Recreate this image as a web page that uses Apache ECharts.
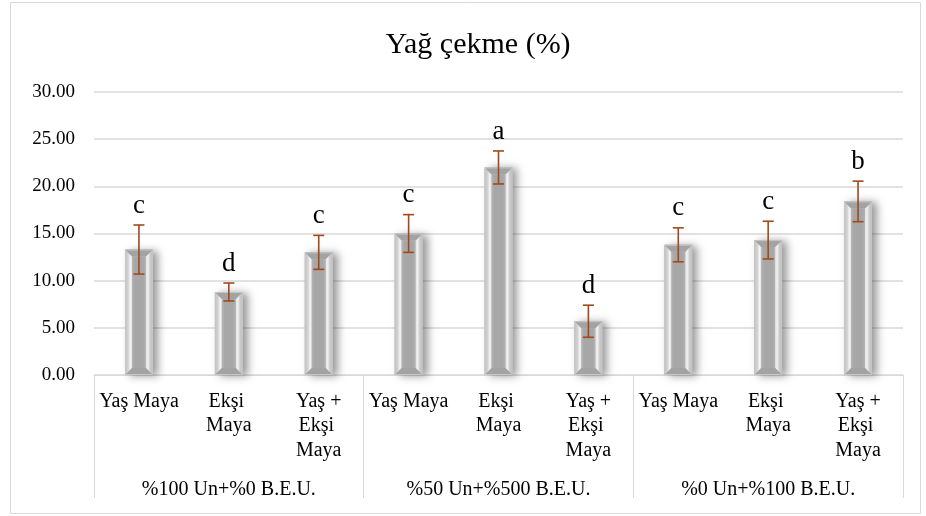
<!DOCTYPE html>
<html>
<head>
<meta charset="utf-8">
<script src="https://cdn.jsdelivr.net/npm/echarts@6/dist/echarts.min.js"></script>
<style>
  html, body { margin: 0; padding: 0; background: #fff; }
  #chart { width: 926px; height: 516px; }
</style>
</head>
<body>
<div id="chart"></div>
<script>
// Flour blend groups and yeast types
const groups = ['%100 Un+%0 B.E.U.', '%50 Un+%500 B.E.U.', '%0 Un+%100 B.E.U.'];
const yeastTypes = ['Yaş Maya', 'Ekşi \nMaya', 'Yaş +\nEkşi \nMaya'];

// Oil uptake (%) means, standard deviations and significance letters
const means = [13.3, 8.8, 13.0, 15.0, 22.0, 5.7, 13.8, 14.3, 18.4];
const sds = [2.6, 0.95, 1.8, 2.0, 1.75, 1.7, 1.8, 2.0, 2.15];
const letters = ['c', 'd', 'c', 'c', 'a', 'd', 'c', 'c', 'b'];

// Value axis
const yMin = 0, yMax = 30, yStep = 5;

const categories = [];
groups.forEach(() => yeastTypes.forEach(t => categories.push(t)));

const FONT = "'Liberation Serif', 'Times New Roman', serif";
const GRID_COLOR = '#d9d9d9';
const ERR_COLOR = '#a04a1c';

const chart = echarts.init(document.getElementById('chart'), null, { renderer: 'canvas' });

// Bevelled grey column
function renderBar(params, api) {
  const idx = api.value(0);
  const val = api.value(1);
  const base = api.coord([idx, 0]);
  const top = api.coord([idx, val]);
  const w = api.size([1, 0])[0] * 0.31;
  const x0 = base[0] - w / 2, x1 = base[0] + w / 2;
  const y0 = top[1], y1 = base[1];
  const b = Math.min(7, (y1 - y0) / 2);
  const inner = new echarts.graphic.LinearGradient(0, 0, 1, 0, [
    { offset: 0, color: '#b4b4b4' },
    { offset: 0.2, color: '#a7a7a7' },
    { offset: 0.8, color: '#a7a7a7' },
    { offset: 1, color: '#b4b4b4' }
  ]);
  const sideL = new echarts.graphic.LinearGradient(0, 0, 1, 0, [
    { offset: 0, color: '#c4c4c4' }, { offset: 0.45, color: '#d2d2d2' }, { offset: 0.75, color: '#f4f4f4' }, { offset: 1, color: '#e2e2e2' }
  ]);
  const sideR = new echarts.graphic.LinearGradient(0, 0, 1, 0, [
    { offset: 0, color: '#e2e2e2' }, { offset: 0.3, color: '#f0f0f0' }, { offset: 0.6, color: '#cccccc' }, { offset: 1, color: '#bcbcbc' }
  ]);
  return {
    type: 'group',
    children: [
      {
        type: 'rect',
        shape: { x: x0, y: y0, width: w, height: y1 - y0 },
        style: {
          fill: '#c0c0c0',
          shadowBlur: 8, shadowOffsetX: 5, shadowOffsetY: 1,
          shadowColor: 'rgba(0,0,0,0.4)'
        }
      },
      {
        type: 'polygon',
        shape: { points: [[x0, y0], [x0 + b, y0 + b], [x0 + b, y1 - b], [x0, y1]] },
        style: { fill: sideL }
      },
      {
        type: 'polygon',
        shape: { points: [[x1, y0], [x1 - b, y0 + b], [x1 - b, y1 - b], [x1, y1]] },
        style: { fill: sideR }
      },
      {
        type: 'polygon',
        shape: { points: [[x0, y0], [x1, y0], [x1 - b, y0 + b], [x0 + b, y0 + b]] },
        style: { fill: '#a3a3a3' }
      },
      {
        type: 'polygon',
        shape: { points: [[x0, y1], [x1, y1], [x1 - b, y1 - b], [x0 + b, y1 - b]] },
        style: { fill: '#a3a3a3' }
      },
      {
        type: 'rect',
        shape: { x: x0 + b, y: y0 + b, width: w - 2 * b, height: Math.max(0, y1 - y0 - 2 * b) },
        style: { fill: inner }
      },
      {
        type: 'rect',
        shape: { x: x0 + 0.5, y: y0 + 0.5, width: w - 1, height: y1 - y0 - 1 },
        style: { fill: null, stroke: '#c6c6c6', lineWidth: 1 }
      }
    ]
  };
}

// Error bar with significance letter above it
function renderError(params, api) {
  const idx = api.value(0);
  const m = api.value(1);
  const sd = api.value(2);
  const hi = api.coord([idx, m + sd]);
  const lo = api.coord([idx, m - sd]);
  const cap = 5.5;
  const x = hi[0];
  const ls = { stroke: ERR_COLOR, lineWidth: 1.6 };
  return {
    type: 'group',
    children: [
      { type: 'line', shape: { x1: x, y1: hi[1], x2: x, y2: lo[1] }, style: ls },
      { type: 'line', shape: { x1: x - cap, y1: hi[1], x2: x + cap, y2: hi[1] }, style: ls },
      { type: 'line', shape: { x1: x - cap, y1: lo[1], x2: x + cap, y2: lo[1] }, style: ls },
      {
        type: 'text',
        x: x, y: hi[1] - 6,
        style: {
          text: letters[params.dataIndex],
          font: '27px ' + FONT,
          fill: '#000',
          align: 'center',
          verticalAlign: 'bottom'
        }
      }
    ]
  };
}

const barData = means.map((v, i) => [i, v]);
const errData = means.map((v, i) => [i, v, sds[i]]);

chart.setOption({
  animation: false,
  backgroundColor: '#fff',
  title: {
    text: 'Yağ çekme (%)',
    left: 473,
    top: 25,
    textAlign: 'center',
    textStyle: { fontFamily: FONT, fontSize: 30, fontWeight: 'normal', color: '#000' }
  },
  graphic: [{
    type: 'rect',
    shape: { x: 10.5, y: 2.5, width: 910, height: 511 },
    style: { fill: null, stroke: GRID_COLOR, lineWidth: 1 },
    z: -1
  }],
  grid: { left: 94, right: 23, top: 92, bottom: 141, containLabel: false },
  xAxis: [
    {
      type: 'category',
      data: categories,
      position: 'bottom',
      axisLine: { show: true, lineStyle: { color: GRID_COLOR, width: 1 } },
      axisTick: { show: false },
      splitLine: { show: false },
      axisLabel: {
        interval: 0,
        margin: 14,
        fontFamily: FONT,
        fontSize: 20,
        lineHeight: 24.5,
        color: '#000',
        align: 'center'
      }
    },
    {
      type: 'category',
      data: groups,
      position: 'bottom',
      axisLine: { show: false },
      axisTick: { show: true, length: 123, lineStyle: { color: GRID_COLOR, width: 1 } },
      splitLine: { show: false },
      axisLabel: {
        interval: 0,
        margin: 105,
        fontFamily: FONT,
        fontSize: 20,
        color: '#000'
      }
    }
  ],
  yAxis: {
    type: 'value',
    min: yMin,
    max: yMax,
    interval: yStep,
    axisLine: { show: false },
    axisTick: { show: false },
    splitLine: { lineStyle: { color: GRID_COLOR, width: 1.5 } },
    axisLabel: {
      margin: 19,
      fontFamily: FONT,
      fontSize: 19,
      color: '#000',
      formatter: v => v.toFixed(2)
    }
  },
  series: [
    {
      type: 'custom',
      name: 'Yağ çekme',
      renderItem: renderBar,
      data: barData,
      encode: { x: 0, y: 1 },
      z: 2
    },
    {
      type: 'custom',
      name: 'SD',
      renderItem: renderError,
      data: errData,
      encode: { x: 0, y: 1 },
      z: 3
    }
  ]
});
</script>
</body>
</html>
